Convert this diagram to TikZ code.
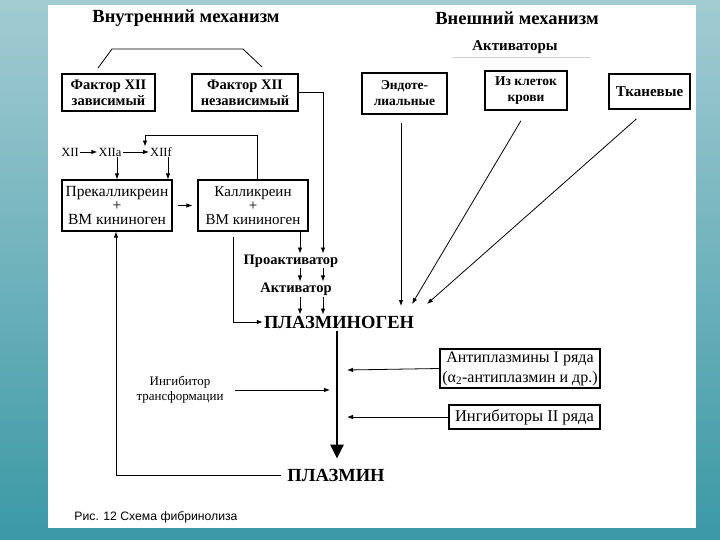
\documentclass[tikz,border=0pt]{standalone}
\usepackage{fontspec}
\setmainfont{Liberation Serif}
\newfontfamily\capfont{Liberation Sans}
\usetikzlibrary{arrows.meta}
\definecolor{seaTop}{HTML}{A3CBD2}
\definecolor{seaBot}{HTML}{3A99A5}
\newcommand\myfs[2]{\fontsize{#1}{#2}\selectfont}
\tikzset{
  box/.style={draw, line width=1.1pt, align=center, inner sep=0pt, font=\bfseries\myfs{14.5}{16}},
  rbox/.style={draw, line width=1.1pt, align=center, inner sep=0pt, font=\myfs{15}{14}},
  ttl/.style={inner sep=1pt, font=\bfseries\myfs{18.5}{20}},
  sub/.style={inner sep=1pt, font=\bfseries\myfs{15}{17}},
  plain/.style={inner sep=1pt, align=center, font=\myfs{13}{15}},
  xrow/.style={inner sep=1pt, font=\myfs{12.5}{14}, text height=8.5pt, text depth=0pt},
  bold/.style={inner sep=1pt, align=center, font=\bfseries\myfs{14.5}{16}},
  big/.style={inner sep=1pt, font=\bfseries\myfs{18.5}{20}},
  ln/.style={line width=0.8pt},
  arr/.style={line width=0.8pt, -{Latex[length=6pt,width=4.5pt]}},
  thickarr/.style={line width=2.6pt, -{Triangle[length=14pt,width=13pt]}},
  faint/.style={line width=0.8pt, black!18},
}
\begin{document}
\begin{tikzpicture}[x=1pt,y=-1pt]
\useasboundingbox (0,0) rectangle (720,540);
\shade[top color=seaTop, bottom color=seaBot] (0,0) rectangle (720,540);
\fill[white] (48,5) rectangle (696,528);

% titles
\node[ttl] (tin) at (186,18) {Внутренний механизм};
\node[ttl] (tex) at (517,18) {Внешний механизм};
\node[sub] (act) at (515,47) {Активаторы};
\coordinate (fa1) at (452,57);
\coordinate (fa2) at (590,57);
\draw[faint] (fa1) -- (fa2);

% boxes top
\node[box, minimum width=93, minimum height=37] (f1) at (108.5,92.5) {Фактор XII\\зависимый};
\node[box, minimum width=106, minimum height=37] (f2) at (245,92.5) {Фактор XII\\независимый};
\node[box, minimum width=85, minimum height=41, font=\bfseries\myfs{13.5}{16}] (endo) at (404.5,93.5) {Эндоте-\\лиальные};
\node[box, minimum width=82, minimum height=39, font=\bfseries\myfs{13.5}{16}] (blood) at (526,90.5) {Из клеток\\крови};
\node[box, minimum width=81, minimum height=35, font=\bfseries\myfs{15}{16}] (tissue) at (649.5,91.5) {Тканевые};

% bracket
\coordinate (b1) at (98,68);
\coordinate (b2) at (112,49);
\coordinate (b3) at (243,49);
\coordinate (b4) at (262,67);
\draw[ln] (b1) -- (b2) -- (b3) -- (b4);

% XII row
\node[xrow] (x0) at (70,152) {XII};
\node[xrow] (x1) at (110,152) {XIIa};
\node[xrow] (x2) at (161,152) {XIIf};
\draw[arr] (x0) -- (x1);
\draw[arr] (x1) -- (x2);

\node[rbox, minimum width=110, minimum height=51, font=\myfs{15.5}{14}] (prek) at (117,205.5) {Прекалликреин\\+\\ВМ кининоген};
\node[rbox, minimum width=110, minimum height=51] (kall) at (253,205.5) {Калликреин\\+\\ВМ кининоген};

\draw[arr] (x1.south -| 117,0) -- (prek.north -| 117,0);
\draw[arr] (x2.south -| 168,0) -- (prek.north -| 168,0);
\draw[arr] (kall.north -| 257,0) -- (257,135) -| (x2.north -| 145,0);
\draw[arr, shorten <=5pt, shorten >=5pt] (prek.east) -- (kall.west);

% middle column
\node[bold] (proakt) at (291,261) {Проактиватор};
\node[bold] (akt) at (296,289) {Активатор};
\node[big] (plg) at (339,322) {ПЛАЗМИНОГЕН};
\node[big] (pl) at (336,475) {ПЛАЗМИН};

\draw[arr] (f2.east) -| (proakt.north -| 323,0);
\draw[arr] (kall.south -| 300,0) -- (proakt.north -| 300,0);
\draw[arr] (proakt.south -| 300,0) -- (akt.north -| 300,0);
\draw[arr] (proakt.south -| 323,0) -- (akt.north -| 323,0);
\draw[arr] (akt.south -| 300,0) -- (plg.north -| 300,0);
\draw[arr] (akt.south -| 323,0) -- (plg.north -| 323,0);
\draw[arr, shorten <=5pt] (kall.south -| 233,0) |- (plg.west);

% external activators
\coordinate (t1) at (401,306);
\coordinate (t2) at (412,304);
\coordinate (t3) at (427,304);
\draw[arr, shorten <=8pt] (endo.south -| 401,0) -- (t1);
\draw[arr, shorten <=12pt] (blood.south -| 527,0) -- (t2);
\draw[arr, shorten <=14pt] (tissue.south -| 647,0) -- (t3);

% main axis
\draw[thickarr, shorten <=2pt, shorten >=9pt] (plg.south -| 337,0) -- (pl.north -| 337,0);
\draw[arr, shorten <=5pt] (pl.west) -| (prek.south -| 116,0);

% inhibitors
\node[plain] (inhtr) at (180,390) {Ингибитор\\трансформации};
\node[rbox, minimum width=160, minimum height=39, font=\myfs{16}{20}] (anti) at (520,368.5) {Антиплазмины I ряда\\(α\textsubscript{2}-антиплазмин и др.)};
\node[rbox, minimum width=151, minimum height=24, font=\myfs{16.5}{17}] (inh2) at (524.5,417) {Ингибиторы II ряда};
\coordinate (axA) at (330,390);
\coordinate (axB) at (347,370);
\coordinate (axC) at (347,417);
\draw[arr, shorten <=10pt] (inhtr.east) -- (axA);
\draw[arr] (anti.west) -- (axB);
\draw[arr] (inh2.west) -- (axC);

% caption
\node[inner sep=1pt, font=\capfont\myfs{12.2}{14}] (cap) at (156,517) {Рис. 12 Схема фибринолиза};
\end{tikzpicture}
\end{document}
